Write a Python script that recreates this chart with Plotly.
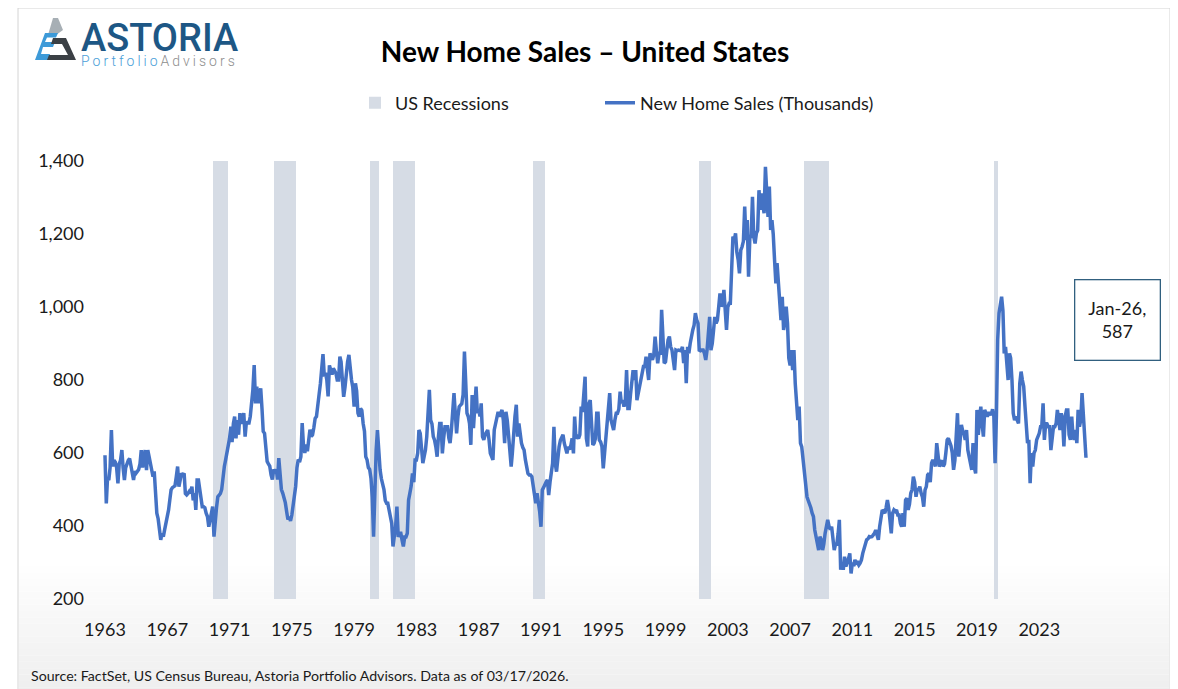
import plotly.graph_objects as go
import pandas as pd

# ---------------- data ----------------
sales_1963_1969 = [
    594, 462, 530, 526, 560, 663, 563, 580, 575, 560, 517, 570,
    580, 608, 560, 526, 560, 575, 580, 585, 560, 535, 526, 550,
    545, 550, 555, 570, 608, 560, 580, 608, 553, 608, 590, 570,
    560, 535, 550, 500, 435, 420, 389, 362, 380, 371, 390, 407,
    420, 444, 471, 499, 505, 508, 510, 535, 563, 508, 530, 544,
    540, 544, 489, 485, 489, 495, 490, 508, 470, 490, 444, 526,
    526, 500, 470, 453, 453, 450, 435, 426, 398, 420, 444, 453,
]
sales_1970s = [
    371, 420, 450, 480, 485, 489, 500, 544, 563, 581, 600, 617,
    640, 672, 630, 681, 700, 640, 690, 650, 709, 680, 700, 709,
    645, 686, 682, 682, 700, 740, 773, 841, 736, 782, 736, 760,
    777, 720, 659, 654, 600, 577, 570, 564, 540, 527, 555, 545,
    555, 527, 586, 545, 500, 490, 480, 464, 440, 418, 425, 414,
    430, 460, 490, 509, 560, 582, 575, 590, 682, 620, 600, 623,
    605, 640, 664, 645, 650, 670, 695, 700, 745, 760, 790, 827,
    871, 810, 820, 800, 755, 840, 830, 815, 832, 825, 818, 800,
    800, 864, 850, 800, 754, 780, 830, 850, 869, 820, 800, 780,
    727, 791, 770, 709, 700, 722, 717, 681, 660, 590, 581, 560,
]
sales_1980s = [
    555, 530, 480, 371, 520, 608, 663, 590, 554, 530, 517, 500,
    470, 462, 462, 440, 417, 407, 344, 370, 400, 453, 370, 380,
    380, 360, 344, 370, 370, 380, 471, 490, 510, 544, 520, 581,
    581, 600, 663, 654, 608, 572, 590, 608, 645, 700, 773, 690,
    680, 645, 636, 617, 590, 645, 681, 681, 599, 640, 672, 672,
    672, 640, 627, 663, 727, 764, 709, 654, 700, 727, 731, 735,
    760, 878, 800, 709, 700, 680, 622, 759, 668, 720, 782, 709,
    720, 700, 736, 645, 636, 650, 659, 663, 636, 599, 590, 581,
    663, 680, 700, 713, 700, 710, 718, 690, 627, 713, 690, 650,
    617, 563, 600, 672, 700, 732, 645, 681, 645, 627, 615, 608,
]
sales_1990s = [
    581, 560, 544, 540, 540, 535, 510, 490, 462, 490, 470, 440,
    398, 499, 505, 515, 520, 526, 485, 520, 550, 572, 672, 572,
    549, 594, 617, 635, 645, 650, 627, 615, 599, 617, 610, 620,
    640, 599, 700, 640, 645, 640, 650, 727, 713, 760, 809, 640,
    618, 736, 745, 682, 622, 627, 640, 709, 709, 636, 630, 618,
    558, 600, 645, 691, 727, 764, 691, 672, 663, 690, 709, 709,
    720, 768, 736, 745, 727, 740, 827, 722, 722, 760, 809, 827,
    800, 827, 745, 764, 790, 809, 820, 837, 837, 864, 830, 800,
    873, 860, 855, 870, 919, 880, 846, 873, 873, 992, 919, 846,
    850, 882, 910, 919, 891, 882, 860, 827, 882, 880, 882, 882,
]
sales_2000s = [
    880, 891, 846, 882, 791, 891, 873, 900, 923, 937, 950, 983,
    965, 955, 882, 880, 882, 882, 873, 855, 882, 919, 973, 882,
    900, 937, 973, 955, 964, 1000, 1037, 1001, 1010, 1047, 1001, 937,
    1000, 1010, 1010, 1100, 1193, 1183, 1202, 1150, 1129, 1092, 1156, 1165,
    1180, 1275, 1183, 1238, 1083, 1193, 1193, 1302, 1193, 1174, 1202, 1210,
    1320, 1266, 1311, 1280, 1257, 1384, 1302, 1247, 1330, 1211, 1238, 1200,
    1129, 1065, 1120, 1074, 1000, 964, 1028, 937, 960, 1001, 955, 860,
    840, 882, 827, 882, 791, 750, 690, 727, 627, 617, 580, 544,
    526, 480, 470, 462, 450, 435, 426, 389, 370, 362, 334, 371,
    362, 334, 350, 380, 407, 417, 400, 390, 398, 362, 334, 350,
]
sales_2010s = [
    350, 380, 417, 280, 300, 280, 316, 289, 298, 310, 325, 270,
    300, 290, 307, 298, 300, 293, 298, 307, 325, 340, 355, 362,
    365, 371, 370, 371, 375, 380, 389, 370, 362, 398, 420, 444,
    440, 435, 450, 471, 450, 420, 380, 435, 444, 440, 444, 430,
    430, 407, 398, 435, 398, 471, 476, 444, 460, 490, 500, 535,
    520, 480, 499, 500, 508, 490, 480, 453, 499, 508, 540, 544,
    520, 572, 581, 575, 563, 627, 600, 563, 572, 580, 563, 570,
    600, 636, 640, 631, 620, 600, 554, 580, 636, 709, 590, 645,
    677, 660, 654, 636, 663, 608, 590, 581, 554, 627, 560, 544,
    718, 650, 700, 727, 680, 645, 718, 709, 700, 709, 709, 704,
]
sales_2020s = [
    720, 700, 572, 700, 910, 983, 1010, 1028, 990, 873, 891, 840,
    800, 873, 860, 800, 709, 690, 700, 690, 681, 791, 823, 800,
    782, 727, 680, 627, 636, 517, 600, 563, 600, 608, 636, 645,
    654, 672, 672, 736, 636, 681, 680, 672, 672, 608, 640, 672,
    672, 681, 718, 690, 663, 709, 690, 618, 700, 718, 718, 650,
    636, 700, 650, 636, 663, 627, 718, 672, 690, 764, 700, 650,
    587,
]
first_month = "1963-01-01"

recession_starts = ["1969-12-01", "1973-11-01", "1980-01-01", "1981-07-01",
                    "1990-07-01", "2001-03-01", "2007-12-01", "2020-02-01"]
recession_ends = ["1970-11-30", "1975-03-31", "1980-07-31", "1982-11-30",
                  "1991-03-31", "2001-11-30", "2009-06-30", "2020-04-30"]

x_tick_years = list(range(1963, 2024, 4))
y_tick_values = [200, 400, 600, 800, 1000, 1200, 1400]
y_tick_labels = ["200", "400", "600", "800", "1,000", "1,200", "1,400"]
Y_MIN, Y_MAX = 200, 1400

# ---------------- build ----------------
sales = sales_1963_1969 + sales_1970s + sales_1980s + sales_1990s + sales_2000s + sales_2010s + sales_2020s
dates = pd.date_range(first_month, periods=len(sales), freq="MS")

rs = pd.to_datetime(recession_starts)
re_ = pd.to_datetime(recession_ends) + pd.Timedelta(days=1)
rec_mid = rs + (re_ - rs) / 2
rec_width = [(e - s).total_seconds() * 1000 for s, e in zip(rs, re_)]

# page has an 8px body margin: the figure is drawn 8px right/down of the window corner
OFF = 8
W, H = 1178 - OFF, 689 - OFF
PLOT_L, PLOT_R, PLOT_T, PLOT_B = 95, 1100, 161, 599      # in window pixels
L, R, T, B = PLOT_L - OFF, W - (PLOT_R - OFF), PLOT_T - OFF, H - (PLOT_B - OFF)
PW, PH = PLOT_R - PLOT_L, PLOT_B - PLOT_T

def px(x, y):
    """window pixel -> paper coords"""
    return (x - PLOT_L) / PW, (PLOT_B - y) / PH

FONT = "Lato, 'Open Sans', sans-serif"
TXT = "#1a1a1a"

fig = go.Figure()
fig.add_trace(go.Bar(
    x=rec_mid, y=[Y_MAX - Y_MIN] * len(rs), base=[Y_MIN] * len(rs), width=rec_width,
    marker=dict(color="#D6DCE5", line=dict(width=0)), name="US Recessions",
    hoverinfo="skip", legend="legend",
))
fig.add_trace(go.Scatter(
    x=dates, y=sales, mode="lines", name="New Home Sales (Thousands)",
    line=dict(color="#4472C4", width=3.5), legend="legend2",
))

shapes = []
# soft grey gradient at the bottom of the card
steps = 22
y0g, y1g = 560, 700
for i in range(steps):
    ya = y0g + (y1g - y0g) * i / steps
    yb = y0g + (y1g - y0g) * (i + 1) / steps
    lvl = int(round(255 - 18 * ((i + 0.5) / steps)))
    xa, ya_p = px(19, ya)
    xb, yb_p = px(1169, yb)
    shapes.append(dict(type="rect", xref="paper", yref="paper", x0=xa, x1=xb, y0=ya_p, y1=yb_p,
                       fillcolor=f"rgb({lvl},{lvl},{lvl})", line=dict(width=0), layer="below"))
# outer frame
fx0, fy0 = px(18, 8)
fx1, fy1 = px(1170, 700)
shapes.append(dict(type="rect", xref="paper", yref="paper", x0=fx0, x1=fx1, y0=fy1, y1=fy0,
                   line=dict(color="#D4D4D4", width=1), fillcolor="rgba(0,0,0,0)", layer="below"))

def poly(points, color):
    d = ""
    for i, (x, y) in enumerate(points):
        a, b = px(x, y)
        d += ("M" if i == 0 else "L") + f"{a:.5f},{b:.5f}"
    d += "Z"
    return dict(type="path", xref="paper", yref="paper", path=d, fillcolor=color,
                line=dict(width=0), layer="above")

# logo icon
shapes.append(poly([(48, 35), (53, 18), (58, 18), (63, 30), (56, 35)], "#A7AFB5"))
shapes.append(poly([(35, 60), (45, 33), (58, 33), (56, 37.5), (47, 37.5), (45, 42), (55, 42),
                    (53, 47), (43, 47), (41, 54), (50, 54), (48, 60)], "#3D9AD8"))
shapes.append(poly([(53, 38), (66, 38), (76, 60), (47, 60), (49, 55), (68, 55), (62, 44), (51, 44)], "#3B4045"))

last_date = dates[-1]
last_value = sales[-1]

logo_text = ("<span style='font-size:38px;font-weight:500;color:#1D5785'>ASTORIA</span><br>"
             "<span style='font-size:14px;font-weight:300;letter-spacing:3px;color:#4A9ED8'>Portfolio</span>"
             "<span style='font-size:14px;font-weight:300;letter-spacing:3px;color:#8E8E8E'>Advisors</span>")

annotations = [
    dict(text=f"{last_date:%b}-{last_date:%y},<br>{last_value}", xref="paper", yref="paper",
         x=px(1117.5, 0)[0], y=px(0, 320)[1], xanchor="center", yanchor="middle",
         showarrow=False, font=dict(size=18, color=TXT, family=FONT),
         bordercolor="#31607F", borderwidth=1.3, borderpad=2, bgcolor="white",
         width=80, height=75, align="center"),
    dict(text="Source: FactSet, US Census Bureau, Astoria Portfolio Advisors. Data as of 03/17/2026.",
         xref="paper", yref="paper", x=px(29, 0)[0], y=px(0, 675)[1], xanchor="left", yanchor="middle",
         showarrow=False, font=dict(size=14.2, color=TXT, family=FONT)),
    dict(text=logo_text, xref="paper", yref="paper", x=px(79, 0)[0], y=px(0, 42)[1],
         xanchor="left", yanchor="middle", showarrow=False, align="left",
         font=dict(size=11.5, family="Roboto, sans-serif")),
]

legend_common = dict(orientation="h", xanchor="left", yanchor="middle",
                     font=dict(size=18, color=TXT, family=FONT), bgcolor="rgba(0,0,0,0)")

fig.update_layout(
    width=W, height=H, autosize=False,
    margin=dict(l=L, r=R, t=T, b=B),
    paper_bgcolor="white", plot_bgcolor="rgba(0,0,0,0)",
    font=dict(family=FONT, size=18, color=TXT),
    title=dict(text="<b>New Home Sales – United States</b>", x=(585 - OFF) / W, y=1 - (52 - OFF) / H,
               xref="container", yref="container", xanchor="center", yanchor="middle",
               font=dict(size=28, color="#000000", family=FONT)),
    showlegend=True,
    legend=dict(x=px(355, 0)[0], y=px(0, 103)[1], **legend_common),
    legend2=dict(x=px(600, 0)[0], y=px(0, 103)[1], **legend_common),
    bargap=0,
    xaxis=dict(type="date", range=["1962-05-12", "2026-11-26"],
               tickvals=[f"{y}-01-01" for y in x_tick_years], ticktext=[str(y) for y in x_tick_years],
               showgrid=False, zeroline=False, showline=False, ticks="",
               tickfont=dict(size=18, color=TXT), ticklabelstandoff=18),
    yaxis=dict(range=[Y_MIN, Y_MAX], tickvals=y_tick_values, ticktext=y_tick_labels,
               showgrid=False, zeroline=False, showline=False, ticks="",
               tickfont=dict(size=18, color=TXT), ticklabelstandoff=10),
    shapes=shapes, annotations=annotations,
    hovermode=False,
)

fig.write_html("out.html")
